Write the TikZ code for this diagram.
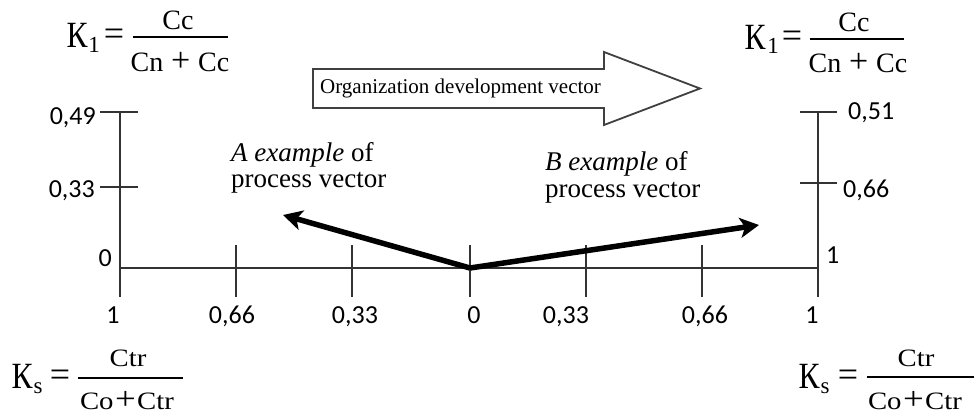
\documentclass[tikz,border=0pt]{standalone}
\usepackage{fontspec}
\setmainfont{Liberation Serif}
\newfontfamily\numfont{Carlito}
\usetikzlibrary{arrows.meta}
\begin{document}
\begin{tikzpicture}[x=1pt,y=-1pt,
  axis/.style={line width=1.6pt, draw=black!80},
  numlab/.style={font=\numfont\fontsize{26}{28}\selectfont, inner sep=0pt, text height=16pt, text depth=0pt},
  lab/.style={font=\fontsize{27}{30}\selectfont, inner sep=0pt, anchor=base west},
  pvec/.style={line width=5.5pt, -{Stealth[length=19pt,width=20pt,inset=5pt]}},
  kbig/.style={font=\fontsize{37}{37}\selectfont, inner sep=0pt, xscale=0.85},
  ksub/.style={font=\fontsize{23}{23}\selectfont, inner sep=0pt},
  ftop/.style={font=\fontsize{28}{30}\selectfont, inner sep=0pt},
  feq/.style={font=\fontsize{36}{36}\selectfont, inner sep=0pt},
  fbot/.style={font=\fontsize{25}{28}\selectfont, inner sep=0pt, xscale=1.15},
  fbar/.style={line width=1.8pt},
  bigarrow/.style={line width=1.8pt, draw=black!75, fill=white, line join=miter}
]
\useasboundingbox (0,0) rectangle (974,415);

% ---------- axes ----------
\coordinate (O) at (470,268);
\coordinate (L) at (120,268);
\coordinate (R) at (818,268);
\coordinate (Ltop) at (120,112);
\coordinate (Lbot) at (120,297);
\coordinate (Rtop) at (818,112);
\coordinate (Rbot) at (818,297);
\draw[axis] (L) -- (R);
\draw[axis] (Ltop) -- (Lbot);
\draw[axis] (Rtop) -- (Rbot);
\foreach \x in {236,352,470,586,702}
  \draw[axis] (\x,245) -- (\x,297);
\draw[axis] (100,112) -- (138,112);
\draw[axis] (100,187) -- (138,187);
\draw[axis] (800,112) -- (837,112);
\draw[axis] (800,183) -- (837,183);

% ---------- axis labels ----------
\node[numlab, anchor=east] (l049) at (96,116) {0,49};
\node[numlab, anchor=east] (l033) at (95,189) {0,33};
\node[numlab, anchor=east] (l0) at (112,258) {0};
\node[numlab, anchor=west] (r051) at (848,111) {0,51};
\node[numlab, anchor=west] (r066) at (843,189) {0,66};
\node[numlab, anchor=west] (r1) at (826,255) {1};
\node[numlab] (b1) at (113,315) {1};
\node[numlab] (b066) at (232,315) {0,66};
\node[numlab] (b033) at (355,315) {0,33};
\node[numlab] (b0) at (474,315) {0};
\node[numlab] (c033) at (566,315) {0,33};
\node[numlab] (c066) at (705,315) {0,66};
\node[numlab] (c1) at (812,315) {1};

% ---------- process vectors ----------
\coordinate (Atip) at (283,215);
\coordinate (Btip) at (759,225);
\draw[pvec] (O) -- (Atip);
\draw[pvec] (O) -- (Btip);
\node[lab] (A1) at (231,161) {\textit{A example} of};
\node[lab] (A2) at (231,187) {process vector};
\node[lab] (B1) at (545,170) {\textit{B example} of};
\node[lab] (B2) at (545,197) {process vector};

% ---------- organization development vector ----------
\draw[bigarrow] (313,69) -- (604,69) -- (604,52) -- (700,88.5) -- (604,125) -- (604,108) -- (313,108) -- cycle;
\node[font=\fontsize{21}{24}\selectfont, inner sep=0pt, anchor=base west] (org) at (320,93) {Organization development vector};

% ---------- formula top left ----------
\node[kbig] (k1K) at (77,35.5) {К};
\node[ksub] (k1s) at (94,45) {1};
\node[feq] (k1eq) at (114,37) {=};
\draw[fbar] (133,37) -- (228,37);
\node[ftop] (k1n) at (178,20) {Cc};
\node[ftop] (k1d) at (180,62) {Cn\hspace{0.28em}{\fontsize{34}{34}\selectfont+}\hspace{0.28em}Cc};

% ---------- formula top right ----------
\node[kbig] (k2K) at (755,37) {К};
\node[ksub] (k2s) at (773,46) {1};
\node[feq] (k2eq) at (792,39) {=};
\draw[fbar] (810,39) -- (904,39);
\node[ftop] (k2n) at (854,22) {Cc};
\node[ftop] (k2d) at (858,63) {Cn\hspace{0.28em}{\fontsize{34}{34}\selectfont+}\hspace{0.28em}Cc};

% ---------- formula bottom left ----------
\node[kbig] (k3K) at (22,376) {К};
\node[ksub] (k3s) at (38,388) {s};
\node[feq] (k3eq) at (60,378) {=};
\draw[fbar] (78,378) -- (183,378);
\node[fbot] (k3n) at (128,358) {Ctr};
\node[fbot] (k3d) at (127,401) {Co\hspace{0.05em}{\fontsize{32}{32}\selectfont+}\hspace{0.05em}Ctr};

% ---------- formula bottom right ----------
\node[kbig] (k4K) at (809,376) {К};
\node[ksub] (k4s) at (825,388) {s};
\node[feq] (k4eq) at (848,378) {=};
\draw[fbar] (867,377) -- (974,377);
\node[fbot] (k4n) at (916,358) {Ctr};
\node[fbot] (k4d) at (915,401) {Co\hspace{0.05em}{\fontsize{32}{32}\selectfont+}\hspace{0.05em}Ctr};
\end{tikzpicture}
\end{document}
